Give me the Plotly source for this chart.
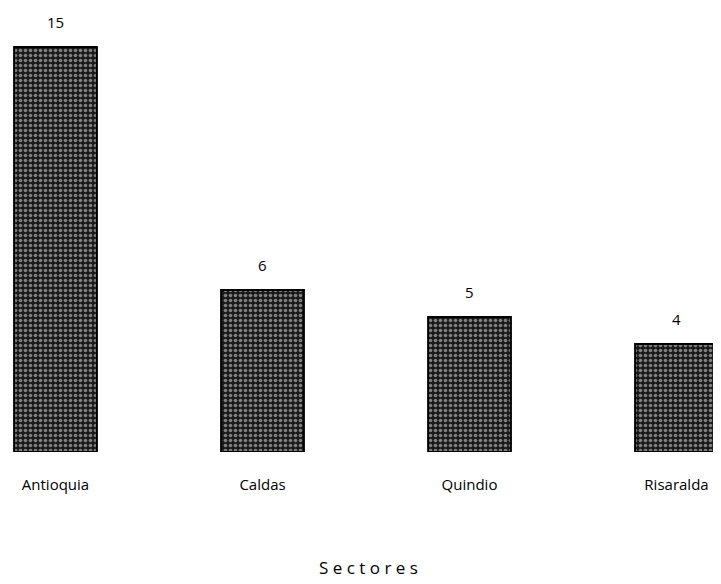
import plotly.graph_objects as go

sectores = ["Antioquia", "Caldas", "Quindio", "Risaralda"]
conteo = [15, 6, 5, 4]

fig = go.Figure()

fig.add_trace(
    go.Bar(
        x=sectores,
        y=conteo,
        width=0.40,
        marker=dict(
            color="#3a3a3a",
            line=dict(color="black", width=2),
            pattern=dict(shape=".", fgcolor="#e8e8e8", bgcolor="#1a1a1a", size=5, solidity=0.4),
        ),
        showlegend=False,
    )
)

# value labels above the bars
for s, c in zip(sectores, conteo):
    fig.add_annotation(
        x=s, y=c, text=str(c), showarrow=False, yshift=25,
        font=dict(family="Open Sans", size=15, color="black"),
    )

fig.update_layout(
    width=721,
    height=584,
    margin=dict(l=0, r=0, t=0, b=140),
    plot_bgcolor="white",
    paper_bgcolor="white",
    font=dict(family="Open Sans", size=15, color="black"),
    xaxis=dict(
        range=[-0.2295, 3.2536],
        showgrid=False,
        showline=False,
        zeroline=False,
        ticks="",
        ticklabelstandoff=22,
        title=dict(text="S e c t o r e s", standoff=69, font=dict(size=17)),
    ),
    yaxis=dict(
        range=[0, 16.44],
        visible=False,
    ),
)

fig.write_html("out.html")
